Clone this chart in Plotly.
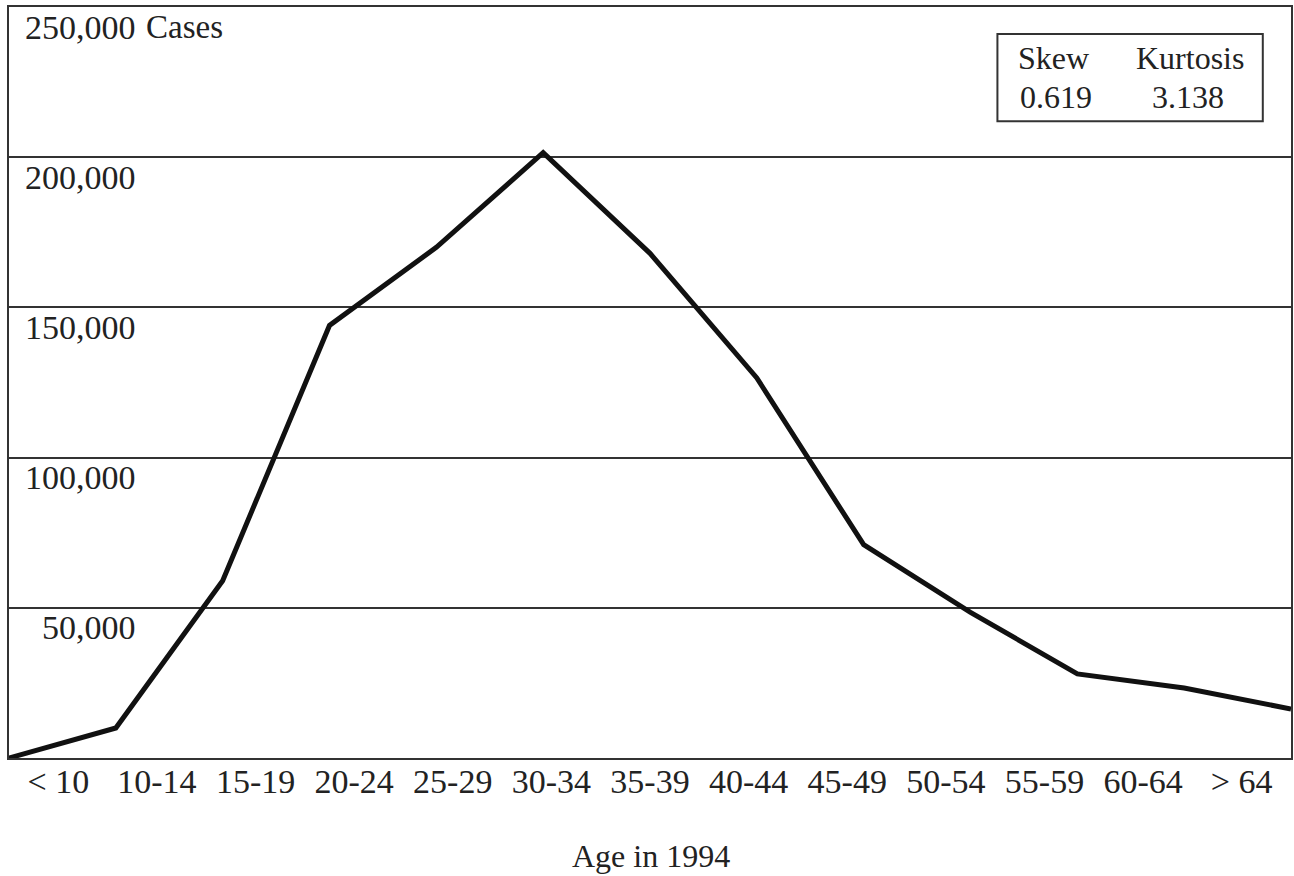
import plotly.graph_objects as go

# Data
age_groups = ["< 10", "10-14", "15-19", "20-24", "25-29", "30-34", "35-39",
              "40-44", "45-49", "50-54", "55-59", "60-64", "> 64"]
cases = [0, 10000, 59000, 144000, 170000, 201500, 168000,
         126500, 71000, 48500, 28000, 23300, 16300]
y_tick_values = [50000, 100000, 150000, 200000, 250000]
y_tick_labels = ["50,000", "100,000", "150,000", "200,000", "250,000"]
stat_names = ["Skew", "Kurtosis"]
stat_values = ["0.619", "3.138"]

FONT = "Liberation Serif"
TXT = "#222222"
n = len(age_groups)
x_points = list(range(n))
x_max = n - 1
# tick labels centred in equal slots across the plot width
label_pos = [(i + 0.5) * x_max / n for i in range(n)]

fig = go.Figure()
fig.add_trace(go.Scatter(
    x=x_points, y=cases, mode="lines",
    line=dict(color="#111111", width=5),
    hoverinfo="skip", showlegend=False,
))

annotations = []
for v, t in zip(y_tick_values, y_tick_labels):
    annotations.append(dict(
        x=0.1005, xref="paper", y=v, yref="y", yshift=-20,
        text=t, showarrow=False, xanchor="right", yanchor="middle",
        font=dict(family=FONT, size=34, color=TXT),
    ))
annotations.append(dict(
    x=0.1055, xref="paper", y=250000, yref="y", yshift=-20,
    text="Cases", showarrow=False, xanchor="left", yanchor="middle",
    font=dict(family=FONT, size=33, color=TXT),
))


def stat_ann(x, y, text):
    return dict(x=x, y=y, xref="paper", yref="paper", text=text, showarrow=False,
                xanchor="center", yanchor="middle",
                font=dict(family=FONT, size=32, color=TXT))


annotations.append(stat_ann(0.8146, 0.932, stat_names[0]))
annotations.append(stat_ann(0.921, 0.932, stat_names[1]))
annotations.append(stat_ann(0.817, 0.880, stat_values[0]))
annotations.append(stat_ann(0.920, 0.880, stat_values[1]))
# axis title
annotations.append(dict(x=0.5008, y=-0.1305, xref="paper", yref="paper", text="Age in 1994",
                        showarrow=False, xanchor="center", yanchor="middle",
                        font=dict(family=FONT, size=32, color=TXT)))

fig.update_layout(
    width=1294, height=876,
    margin=dict(l=9, r=1, t=7, b=118),
    paper_bgcolor="white", plot_bgcolor="white",
    font=dict(family=FONT, color=TXT),
    showlegend=False,
    annotations=annotations,
    shapes=[dict(type="rect", xref="paper", yref="paper",
                 x0=0.771, x1=0.978, y0=0.848, y1=0.964,
                 line=dict(color="#333333", width=2), fillcolor="rgba(0,0,0,0)")],
    xaxis=dict(
        range=[0, x_max], tickmode="array", tickvals=label_pos, ticktext=age_groups,
        showgrid=False, zeroline=False, ticks="", ticklabelstandoff=-8,
        showline=True, mirror=True, linecolor="#333333", linewidth=2,
        tickfont=dict(family=FONT, size=34, color=TXT),
    ),
    yaxis=dict(
        range=[0, 250000], tickmode="array", tickvals=y_tick_values,
        showticklabels=False, showgrid=True, gridcolor="#333333", gridwidth=1.5,
        zeroline=False, ticks="",
        showline=True, mirror=True, linecolor="#333333", linewidth=2,
    ),
)

fig.write_html("out.html", config={"displayModeBar": False},
               post_script="document.body.style.margin='0';document.body.style.overflow='hidden';")
